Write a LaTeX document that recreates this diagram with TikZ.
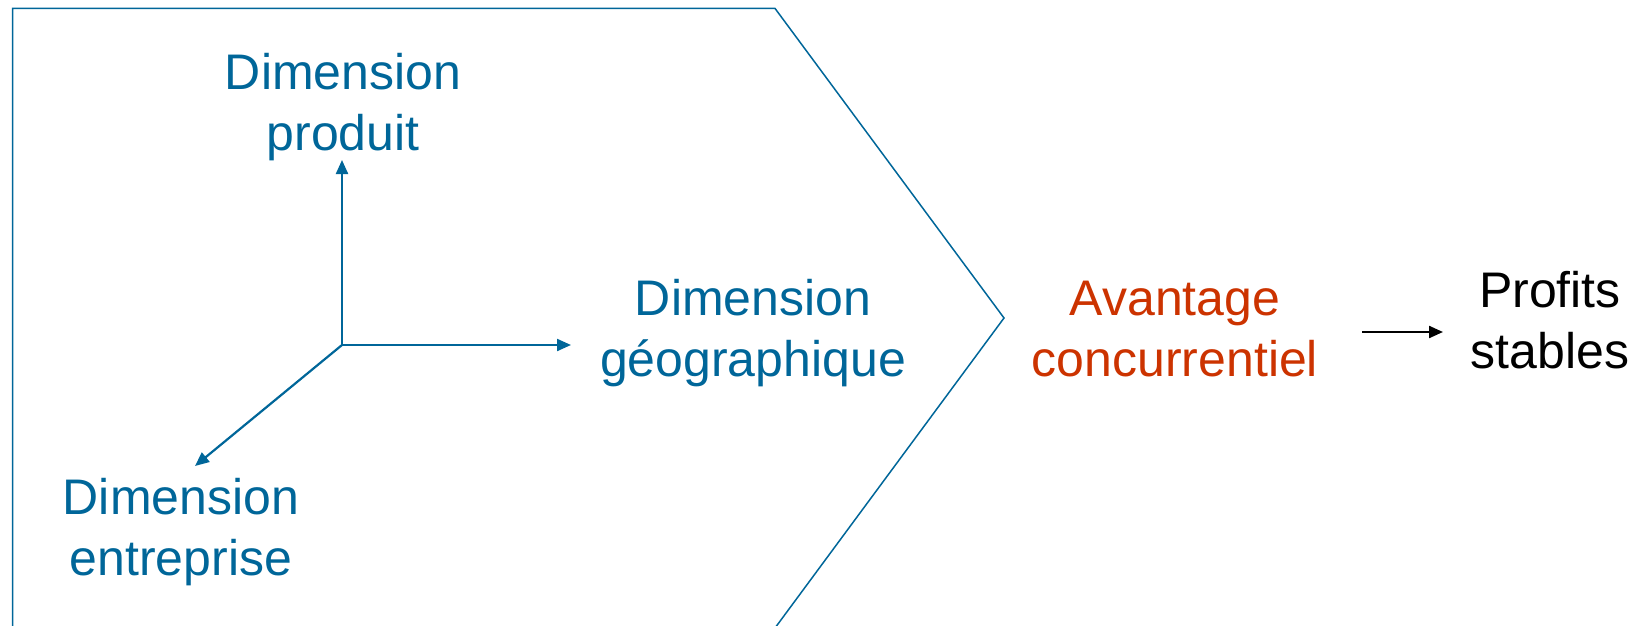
\documentclass[tikz,border=0pt]{standalone}
\usepackage{fontspec}
\setmainfont{Liberation Sans}
\usetikzlibrary{arrows.meta}
\definecolor{dimblue}{HTML}{006699}
\definecolor{advred}{HTML}{CC3300}
\begin{document}
\begin{tikzpicture}[x=0.5pt,y=-0.5pt,
  lbl/.style={align=center,inner sep=0pt,font=\fontsize{25}{30.5}\selectfont},
  axis/.style={draw=dimblue,line width=1.1pt,-{Triangle[length=7pt,width=6pt]}},
  outline/.style={draw=dimblue,line width=0.75pt,line join=miter}]
\useasboundingbox (0,0) rectangle (1649,626);
% pentagon outline
\draw[outline] (12.6,640) -- (12.6,8.4) -- (775,8.4) -- (1004,318) -- (775,628);
% axes
\coordinate (o) at (342,345);
\coordinate (up) at (342,160);
\coordinate (rt) at (571,345);
\coordinate (dl) at (195,466);
\draw[axis] (o) -- (up);
\draw[axis] (o) -- (rt);
\draw[axis] (o) -- (dl);
% labels
\node[lbl,text=dimblue] (prod) at (343,107) {Dimension\\produit};
\node[lbl,text=dimblue] (geo) at (753,333) {Dimension\\géographique};
\node[lbl,text=dimblue] (ent) at (181,532) {Dimension\\entreprise};
\node[lbl,text=advred] (adv) at (1175,329) {Avantage\\concurrentiel};
\node[lbl,text=black] (prof) at (1550,320) {Profits\\stables};
% black arrow
\coordinate (a1) at (1362,332);
\coordinate (a2) at (1443,332);
\draw[line width=1.1pt,-{Triangle[length=7pt,width=6pt]}] (a1) -- (a2);
\end{tikzpicture}
\end{document}
